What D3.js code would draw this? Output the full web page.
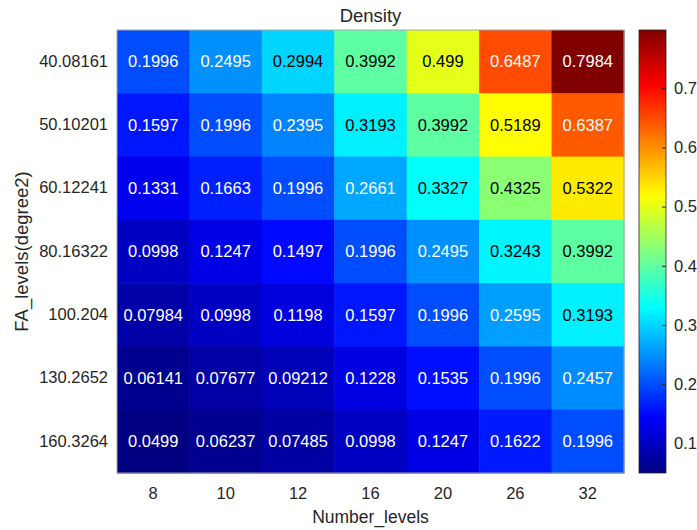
<!DOCTYPE html>
<html>
<head>
<meta charset="utf-8">
<script src="https://cdn.jsdelivr.net/npm/d3@7"></script>
<style>
  body { margin: 0; background: #fff; }
  svg { font-family: "Liberation Sans", Arial, sans-serif; }
</style>
</head>
<body>
<div id="chart"></div>
<script>
// DATA
const numberLevels = ["8", "10", "12", "16", "20", "26", "32"];
const faLevels = ["40.08161", "50.10201", "60.12241", "80.16322", "100.204", "130.2652", "160.3264"];
// one row per FA level, one value per number level
const density = [
  [0.1996, 0.2495, 0.2994, 0.3992, 0.499, 0.6487, 0.7984],
  [0.1597, 0.1996, 0.2395, 0.3193, 0.3992, 0.5189, 0.6387],
  [0.1331, 0.1663, 0.1996, 0.2661, 0.3327, 0.4325, 0.5322],
  [0.0998, 0.1247, 0.1497, 0.1996, 0.2495, 0.3243, 0.3992],
  [0.07984, 0.0998, 0.1198, 0.1597, 0.1996, 0.2595, 0.3193],
  [0.06141, 0.07677, 0.09212, 0.1228, 0.1535, 0.1996, 0.2457],
  [0.0499, 0.06237, 0.07485, 0.0998, 0.1247, 0.1622, 0.1996]
];
const cbTicks = [0.1, 0.2, 0.3, 0.4, 0.5, 0.6, 0.7];

const width = 697, height = 530;
const margin = {top: 30, right: 73, bottom: 57, left: 117};
const plotRight = 624;
const cbX = 639, cbW = 27;
const textCol = "#262626";
const tickFont = "16.5px";

const cells = [];
density.forEach((row, i) => row.forEach((v, j) => cells.push({x: numberLevels[j], y: faLevels[i], v})));

const vmin = d3.min(cells, d => d.v), vmax = d3.max(cells, d => d.v);

// matlab-like jet
function jet(t) {
  const c = x => Math.max(0, Math.min(1, x));
  return [c(1.5 - Math.abs(4 * t - 3)), c(1.5 - Math.abs(4 * t - 2)), c(1.5 - Math.abs(4 * t - 1))];
}
const norm = d3.scaleLinear().domain([vmin, vmax]).range([0, 1]).clamp(true);
const colorOf = v => { const [r, g, b] = jet(norm(v)); return d3.rgb(r * 255, g * 255, b * 255); };
const labelColor = v => {
  const [r, g, b] = jet(norm(v));
  return (0.299 * r + 0.587 * g + 0.114 * b) > 0.55 ? "#000" : "#fff";
};

// SCALES
const xScale = d3.scaleBand().domain(numberLevels).range([margin.left, plotRight]).padding(0);
const yScale = d3.scaleBand().domain(faLevels).range([margin.top, height - margin.bottom]).padding(0);
const cbScale = d3.scaleLinear().domain([vmin, vmax]).range([height - margin.bottom, margin.top]);

const svg = d3.select("#chart").append("svg")
  .attr("width", width)
  .attr("height", height);

// CELLS
svg.append("g").selectAll("rect")
  .data(cells)
  .join("rect")
  .attr("x", d => xScale(d.x))
  .attr("y", d => yScale(d.y))
  .attr("width", xScale.bandwidth() + 0.5)
  .attr("height", yScale.bandwidth() + 0.5)
  .attr("fill", d => colorOf(d.v));

svg.append("g").selectAll("text")
  .data(cells)
  .join("text")
  .attr("x", d => xScale(d.x) + xScale.bandwidth() / 2)
  .attr("y", d => yScale(d.y) + yScale.bandwidth() / 2)
  .attr("dy", "0.35em")
  .attr("text-anchor", "middle")
  .style("font-size", tickFont)
  .attr("fill", d => labelColor(d.v))
  .text(d => d.v);

// outline
svg.append("rect")
  .attr("x", margin.left).attr("y", margin.top)
  .attr("width", plotRight - margin.left).attr("height", height - margin.bottom - margin.top)
  .attr("fill", "none").attr("stroke", "#a6a6a6").attr("stroke-width", 1);

// AXES
const xAxisGroup = svg.append("g")
  .attr("transform", `translate(0, ${height - margin.bottom})`)
  .call(d3.axisBottom(xScale).tickSize(0).tickPadding(14));
const yAxisGroup = svg.append("g")
  .attr("transform", `translate(${margin.left}, 0)`)
  .call(d3.axisLeft(yScale).tickSize(0).tickPadding(9));
[xAxisGroup, yAxisGroup].forEach(g => {
  g.select(".domain").remove();
  g.selectAll("text").style("font-size", tickFont).attr("fill", textCol);
});

// COLORBAR
const defs = svg.append("defs");
const grad = defs.append("linearGradient").attr("id", "jetgrad")
  .attr("x1", 0).attr("y1", 1).attr("x2", 0).attr("y2", 0);
d3.range(0, 1.0001, 0.0625).forEach(t => {
  const [r, g, b] = jet(t);
  grad.append("stop").attr("offset", t).attr("stop-color", d3.rgb(r * 255, g * 255, b * 255));
});
svg.append("rect")
  .attr("x", cbX).attr("y", cbScale(vmax))
  .attr("width", cbW).attr("height", cbScale(vmin) - cbScale(vmax))
  .attr("fill", "url(#jetgrad)")
  .attr("stroke", textCol).attr("stroke-width", 0.8);

const cbAxis = svg.append("g")
  .attr("transform", `translate(${cbX + cbW}, 0)`)
  .call(d3.axisRight(cbScale).tickValues(cbTicks).tickSizeInner(-4).tickSizeOuter(0).tickPadding(8).tickFormat(d3.format(".1f")));
cbAxis.select(".domain").remove();
cbAxis.selectAll("line").attr("stroke", textCol);
cbAxis.selectAll("text").style("font-size", tickFont).attr("fill", textCol);

// LABELS
svg.append("text")
  .attr("x", (margin.left + plotRight) / 2)
  .attr("y", 22)
  .attr("text-anchor", "middle")
  .style("font-size", "18.5px")
  .attr("fill", textCol)
  .text("Density");

svg.append("text")
  .attr("x", (margin.left + plotRight) / 2)
  .attr("y", 523)
  .attr("text-anchor", "middle")
  .style("font-size", "17.5px")
  .attr("fill", textCol)
  .text("Number_levels");

svg.append("text")
  .attr("transform", `translate(28, ${(margin.top + height - margin.bottom) / 2}) rotate(-90)`)
  .attr("text-anchor", "middle")
  .style("font-size", "18.5px")
  .attr("fill", textCol)
  .text("FA_levels(degree2)");
</script>
</body>
</html>
